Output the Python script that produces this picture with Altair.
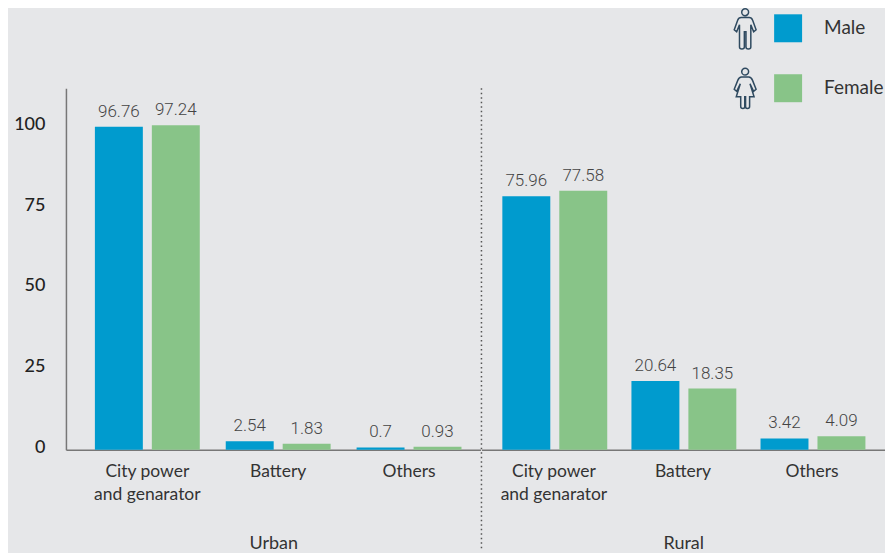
import altair as alt
import pandas as pd

categories = ["City power|and genarator", "Battery", "Others"]
sexes = ["Male", "Female"]
urban_male = [96.76, 2.54, 0.7]
urban_female = [97.24, 1.83, 0.93]
rural_male = [75.96, 20.64, 3.42]
rural_female = [77.58, 18.35, 4.09]
tick_labels = [0, 25, 50, 75, 100]

BG = "#E6E7E9"
HEAD = ("M0.17,-0.82 C0.17,-0.91 0.09,-0.99 0,-0.99 C-0.09,-0.99 -0.17,-0.91 -0.17,-0.82 "
        "C-0.17,-0.73 -0.09,-0.65 0,-0.65 C0.09,-0.65 0.17,-0.73 0.17,-0.82 Z ")
MALE_ICON = (HEAD +
             "M-0.2,-0.56 L0.2,-0.56 Q0.32,-0.56 0.37,-0.42 L0.54,0.05 L0.42,0.15 L0.28,-0.2 L0.28,0.9 "
             "Q0.28,1 0.16,1 Q0.04,1 0.04,0.9 L0.04,0.15 L-0.04,0.15 L-0.04,0.9 Q-0.04,1 -0.16,1 "
             "Q-0.28,1 -0.28,0.9 L-0.28,-0.2 L-0.42,0.15 L-0.54,0.05 L-0.37,-0.42 Q-0.32,-0.56 -0.2,-0.56 Z")
FEMALE_ICON = (HEAD +
               "M-0.18,-0.56 L0.18,-0.56 Q0.3,-0.56 0.36,-0.4 L0.54,0.05 L0.42,0.15 L0.24,-0.22 L0.44,0.42 "
               "L0.22,0.42 L0.22,0.9 Q0.22,1 0.11,1 Q0.02,1 0.02,0.9 L0.02,0.42 L-0.02,0.42 L-0.02,0.9 "
               "Q-0.02,1 -0.11,1 Q-0.22,1 -0.22,0.9 L-0.22,0.42 L-0.44,0.42 L-0.24,-0.22 L-0.42,0.15 "
               "L-0.54,0.05 L-0.36,-0.4 Q-0.3,-0.56 -0.18,-0.56 Z")

H = 362
BAR_MAX = 108.3
AXIS_DOMAIN = [-0.78, 111.3]


def frame(male, female):
    rows = []
    for c, m, f in zip(categories, male, female):
        rows.append({"cat": c, "sex": "Male", "v": m})
        rows.append({"cat": c, "sex": "Female", "v": f})
    return pd.DataFrame(rows)


def panel(male, female, title, width, outer, align, off_outer):
    df = frame(male, female)
    x = alt.X("cat:N", sort=categories,
              scale=alt.Scale(paddingInner=0, paddingOuter=outer, align=align),
              axis=alt.Axis(title=title, labelAngle=0, ticks=False,
                            labelExpr="split(datum.value, '|')",
                            labelFont="Lato", labelFontSize=17.5, labelColor="#333333",
                            labelLineHeight=23, labelPadding=22, labelBaseline="middle",
                            titleFont="Lato", titleFontSize=18, titleFontWeight="normal",
                            titleColor="#333333", titlePadding=31,
                            domainColor="#777777", domainWidth=1.5))
    xo = alt.XOffset("sex:N", sort=sexes,
                     scale=alt.Scale(paddingInner=0, paddingOuter=off_outer))
    y = alt.Y("v:Q", scale=alt.Scale(domain=[0, BAR_MAX]), axis=None)
    bars = alt.Chart(df).mark_bar(width=48).encode(
        x=x, xOffset=xo, y=y,
        color=alt.Color("sex:N", sort=sexes,
                        scale=alt.Scale(domain=sexes, range=["#009BCE", "#88C488"]),
                        legend=alt.Legend(title=None, orient="none", legendX=709, legendY=-74,
                                          symbolType="square", symbolSize=784,
                                          symbolStrokeWidth=0, symbolOpacity=1,
                                          labelFont="Lato", labelFontSize=19,
                                          labelColor="#333333", labelOffset=22,
                                          rowPadding=32)))
    text = alt.Chart(df).mark_text(font="Roboto", fontWeight=300, fontSize=17, color="#444444",
                                   baseline="bottom", dy=-6).encode(
        x=x, xOffset=xo, y=y, text="v:N")
    return width, bars, text


w1, bars1, text1 = panel(urban_male, urban_female, "Urban", 415, 0.084, 0.727, 0.149)
w2, bars2, text2 = panel(rural_male, rural_female, "Rural", 404, 0.063, 0.486, 0.134)

axis_layer = alt.Chart(pd.DataFrame({"t": tick_labels})).mark_rule(opacity=0).encode(
    y=alt.Y("t:Q", scale=alt.Scale(domain=AXIS_DOMAIN, nice=False),
            axis=alt.Axis(title=None, values=tick_labels, grid=False, ticks=False,
                          labelFont="Lato", labelFontSize=18, labelFontWeight=500,
                          labelColor="#222222", labelPadding=21,
                          domainColor="#777777", domainWidth=1.5)))

divider = alt.Chart(pd.DataFrame({"a": [0]})).mark_rule(
    color="#555555", strokeWidth=1.5, strokeDash=[1.5, 3]).encode(
    x=alt.value(0), y=alt.value(0), y2=alt.value(H + 99))

male_icon = alt.Chart(pd.DataFrame({"a": [0]})).mark_point(
    shape=MALE_ICON, size=1640, stroke="#2F4A60", strokeWidth=1.5, filled=False, opacity=1).encode(
    x=alt.value(264), y=alt.value(-59.5))
female_icon = alt.Chart(pd.DataFrame({"a": [0]})).mark_point(
    shape=FEMALE_ICON, size=1640, stroke="#2F4A60", strokeWidth=1.5, filled=False, opacity=1).encode(
    x=alt.value(264), y=alt.value(0))

urban = alt.layer(bars1, text1, axis_layer).resolve_scale(y="independent").properties(width=w1, height=H)
rural = alt.layer(bars2, text2, divider, male_icon, female_icon).properties(width=w2, height=H)

chart = alt.hconcat(urban, rural, spacing=0).properties(
    background=BG, padding={"left": 5, "right": 0, "top": -3, "bottom": 0}
).configure_view(stroke=None)

chart.save("out.html", embed_options={"renderer": "svg", "actions": False})
